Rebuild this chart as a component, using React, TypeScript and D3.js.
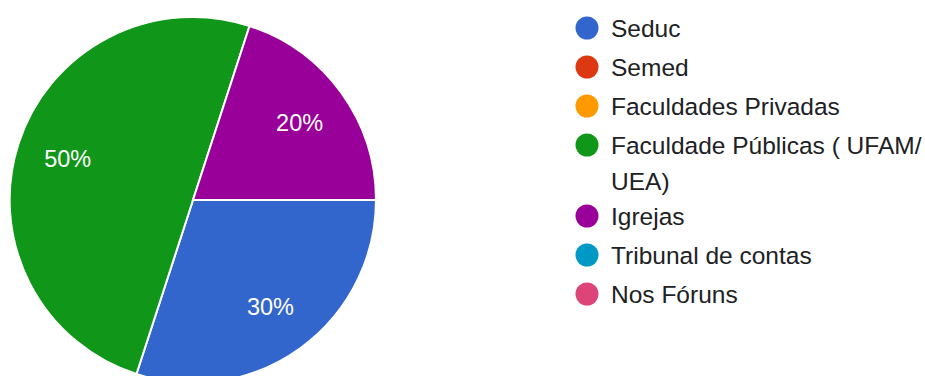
import React from "react";
import * as d3 from "d3";

const categories = [
  "Seduc",
  "Semed",
  "Faculdades Privadas",
  "Faculdade Públicas ( UFAM/ UEA)",
  "Igrejas",
  "Tribunal de contas",
  "Nos Fóruns",
];
const legendLines = [
  ["Seduc"],
  ["Semed"],
  ["Faculdades Privadas"],
  ["Faculdade Públicas ( UFAM/", "UEA)"],
  ["Igrejas"],
  ["Tribunal de contas"],
  ["Nos Fóruns"],
];
const values = [30, 0, 0, 50, 20, 0, 0];
const colors = ["#3366cc", "#dc3912", "#ff9900", "#109618", "#990099", "#0099c6", "#dd4477"];

const W = 925;
const H = 376;
const cx = 193;
const cy = 200;
const R = 183;
const FONT = "'Liberation Sans', Arial, Helvetica, sans-serif";

export default function App() {
  const data = categories.map((c, i) => ({ c, v: values[i], color: colors[i] }));
  const pie = d3
    .pie<{ c: string; v: number; color: string }>()
    .value((d) => d.v)
    .sort(null)
    .startAngle(Math.PI / 2)
    .endAngle(Math.PI / 2 + 2 * Math.PI);
  const arcs = pie(data);
  const arc = d3.arc<d3.PieArcDatum<any>>().innerRadius(0).outerRadius(R);
  const labelArc = d3.arc<d3.PieArcDatum<any>>().innerRadius(R * 0.72).outerRadius(R * 0.72);
  const total = d3.sum(values);

  // legend layout
  let y = 28;
  const legendItems = legendLines.map((lines, i) => {
    const item = { lines, y, color: colors[i] };
    y += 39 + (lines.length - 1) * 32;
    return item;
  });

  return (
    <svg
      width={W}
      height={H}
      style={{ position: "absolute", left: 0, top: 0, background: "#fff" }}
      fontFamily={FONT}
    >
      <rect width={W} height={H} fill="#fff" />
      <g transform={`translate(${cx},${cy})`}>
        {arcs
          .filter((a) => a.data.v > 0)
          .map((a, i) => (
            <path key={i} d={arc(a) || ""} fill={a.data.color} stroke="#fff" strokeWidth={2} />
          ))}
        {arcs
          .filter((a) => a.data.v > 0)
          .map((a, i) => {
            const [lx, ly] = labelArc.centroid(a);
            return (
              <text
                key={"l" + i}
                x={lx}
                y={ly}
                fill="#fff"
                fontSize={23.5}
                textAnchor="middle"
                dominantBaseline="central"
              >
                {Math.round((a.data.v / total) * 100)}%
              </text>
            );
          })}
      </g>
      <g>
        {legendItems.map((it, i) => (
          <g key={i}>
            <circle cx={587} cy={it.y} r={11.5} fill={it.color} />
            {it.lines.map((ln, j) => (
              <text
                key={j}
                x={611}
                y={it.y + j * 36}
                fontSize={24.5}
                fill="#202124"
                dominantBaseline="central"
              >
                {ln}
              </text>
            ))}
          </g>
        ))}
      </g>
    </svg>
  );
}
